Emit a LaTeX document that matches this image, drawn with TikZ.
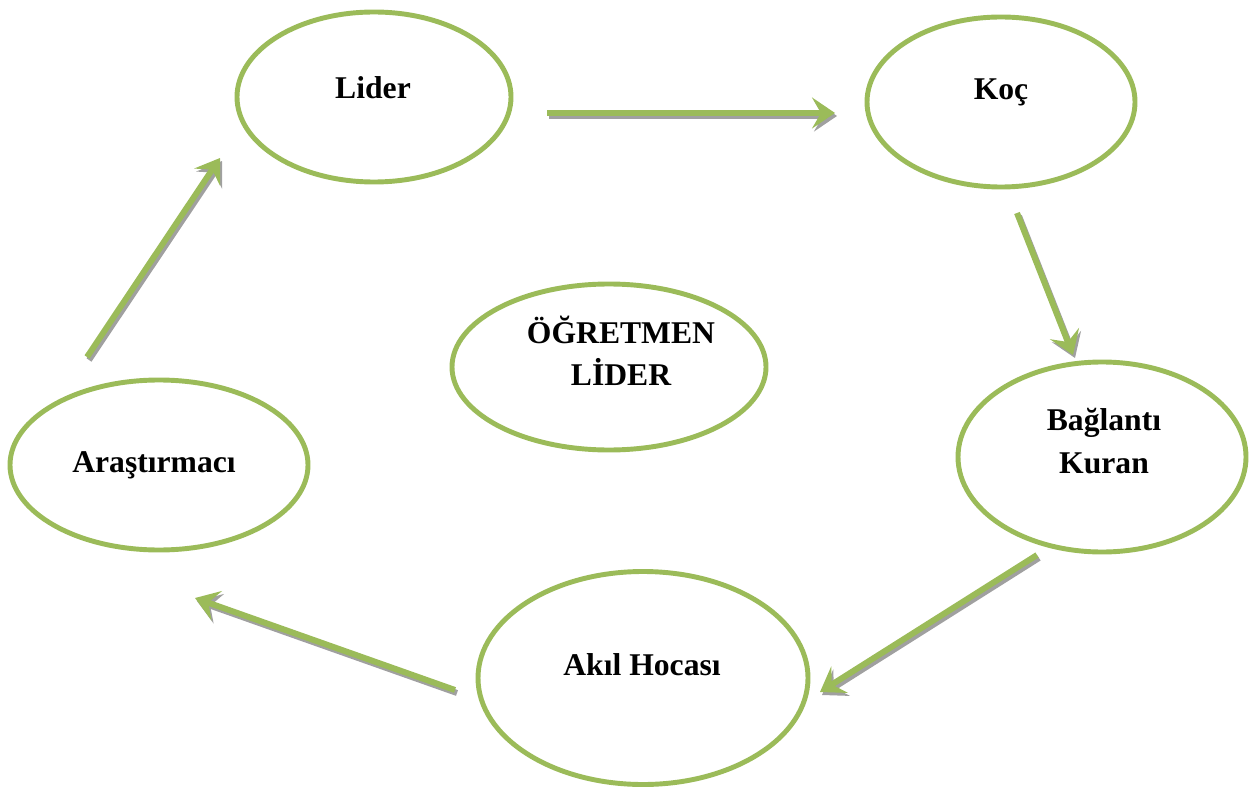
\documentclass[tikz,border=0pt]{standalone}
\usepackage{fontspec}
\setmainfont{Liberation Serif}
\usepackage{tikz}
\usetikzlibrary{arrows.meta,calc,positioning,shapes.geometric}
\definecolor{RoleGreen}{HTML}{9BBB59}
\definecolor{RoleShadow}{HTML}{A0A0A0}

\tikzset{
  role/.style={draw=RoleGreen, line width=2.8pt, ellipse, fill=white},
  roletext/.style={font=\fontsize{18}{24}\selectfont\bfseries, align=center},
  flow/.style={RoleGreen, line width=3.4pt,
    -{Stealth[length=0.46cm, width=0.62cm, inset=0.18cm]}},
  flowshadow/.style={flow, RoleShadow}
}

\begin{document}
\begin{tikzpicture}
  \useasboundingbox (0,0) rectangle (24.98,-15.74);

  % Role ellipses
  \node[role, minimum width=5.48cm, minimum height=3.40cm] (lider) at (7.48,-1.94) {};
  \node[role, minimum width=5.36cm, minimum height=3.40cm] (koc) at (20.02,-2.04) {};
  \node[role, minimum width=6.28cm, minimum height=3.32cm] (ogretmen) at (12.18,-7.34) {};
  \node[role, minimum width=5.96cm, minimum height=3.40cm] (arastirmaci) at (3.18,-9.30) {};
  \node[role, minimum width=5.76cm, minimum height=3.80cm] (baglanti) at (22.04,-9.14) {};
  \node[role, minimum width=6.60cm, minimum height=4.26cm] (akil) at (12.86,-13.56) {};

  % Labels
  \node[roletext] (liderText) at (7.46,-1.76) {Lider};
  \node[roletext] (kocText) at (20.02,-1.84) {Koç};
  \node[roletext] (ogretmenText) at (12.42,-7.02) {ÖĞRETMEN\\LİDER};
  \node[roletext] (arastirmaciText) at (3.08,-9.30) {Araştırmacı};
  \node[roletext] (baglantiText) at (22.08,-8.82) {Bağlantı\\Kuran};
  \node[roletext] (akilText) at (12.84,-13.30) {Akıl Hocası};

  % Arrow ends
  \coordinate (a1s) at (10.94,-2.26);  \coordinate (a1e) at (16.70,-2.26);
  \coordinate (a2s) at (20.34,-4.26);  \coordinate (a2e) at (21.46,-7.10);
  \coordinate (a3s) at (20.74,-11.10); \coordinate (a3e) at (16.40,-13.84);
  \coordinate (a4s) at (9.10,-13.80);  \coordinate (a4e) at (3.90,-11.96);
  \coordinate (a5s) at (1.74,-7.14);   \coordinate (a5e) at (4.40,-3.16);

  % Cycle arrows with shadow
  \foreach \s/\e in {a1s/a1e, a2s/a2e, a3s/a3e, a4s/a4e, a5s/a5e} {
    \draw[flowshadow] ([shift={(0.04,-0.06)}]\s) -- ([shift={(0.04,-0.06)}]\e);
    \draw[flow] (\s) -- (\e);
  }
\end{tikzpicture}
\end{document}
